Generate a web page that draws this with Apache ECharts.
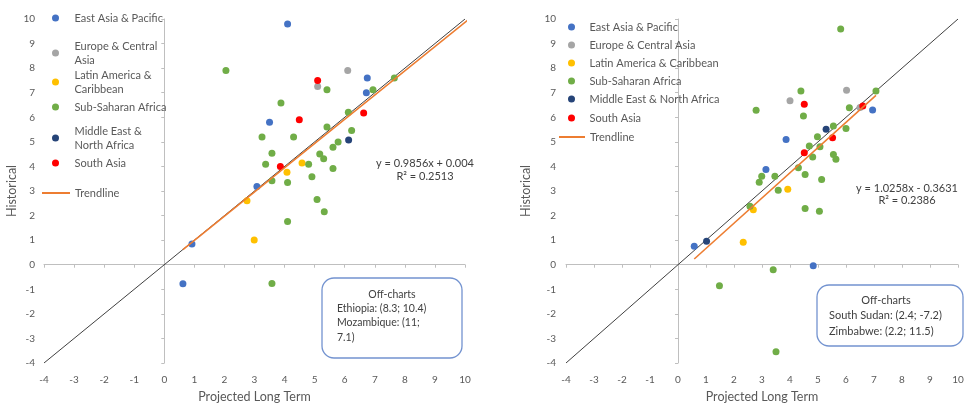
<!DOCTYPE html>
<html><head><meta charset="utf-8">
<script src="https://cdn.jsdelivr.net/npm/echarts/dist/echarts.min.js"></script>
<style>html,body{margin:0;padding:0;background:#fff}#c{width:970px;height:409px}</style>
</head><body><div id="c"></div>
<script>
// ---------- data ----------
const axisMin = -4, axisMax = 10, axisStep = 1;
const regionNames = ['East Asia & Pacific','Europe & Central Asia','Latin America & Caribbean','Sub-Saharan Africa','Middle East & North Africa','South Asia'];
const trendName = 'Trendline';

const leftEAP  = [[4.1,9.8],[6.75,7.6],[6.72,7.0],[3.5,5.8],[3.08,3.18],[0.92,0.84],[0.62,-0.77]];
const leftECA  = [[6.1,7.9],[5.1,7.25]];
const leftLAC  = [[4.58,4.14],[4.08,3.76],[2.75,2.6],[2.99,1.01]];
const leftSSA  = [[2.05,7.9],[7.65,7.6],[5.41,7.12],[6.94,7.12],[3.88,6.58],[6.12,6.2],[5.41,5.6],[6.23,5.46],
                  [3.25,5.2],[4.3,5.2],[5.78,4.99],[5.61,4.78],[3.58,4.54],[5.17,4.51],[5.3,4.31],[3.37,4.09],
                  [4.8,4.09],[5.61,3.92],[4.91,3.58],[3.58,3.42],[4.1,3.35],[5.08,2.65],[5.32,2.16],[4.1,1.76],[3.58,-0.76]];
const leftMENA = [[6.13,5.08]];
const leftSA   = [[5.1,7.5],[6.63,6.17],[4.49,5.9],[3.86,4.0]];
const leftTrend = {slope:0.9856, intercept:0.004, xFrom:0.62, xTo:11};

const rightEAP  = [[6.95,6.3],[3.86,5.1],[3.14,3.88],[0.58,0.75],[4.83,-0.04]];
const rightECA  = [[6.02,7.1],[4.0,6.67],[6.5,6.4]];
const rightLAC  = [[3.92,3.07],[2.69,2.24],[2.33,0.91]];
const rightSSA  = [[5.81,9.59],[4.39,7.07],[7.07,7.07],[2.79,6.29],[4.48,6.05],[6.12,6.39],[6.0,5.54],[5.55,5.65],
                   [4.98,5.21],[4.69,4.83],[5.07,4.8],[5.55,4.49],[5.64,4.29],[4.81,4.38],[4.3,3.95],[4.54,3.67],
                   [5.13,3.47],[2.99,3.6],[3.46,3.6],[2.9,3.36],[3.58,3.03],[2.57,2.38],[4.54,2.29],[5.05,2.18],
                   [3.4,-0.2],[1.48,-0.86],[3.5,-3.54]];
const rightMENA = [[5.29,5.51],[1.02,0.95]];
const rightSA   = [[4.51,6.53],[6.6,6.46],[5.52,5.17],[4.51,4.56]];
const rightTrend = {slope:1.0258, intercept:-0.3631, xFrom:0.58, xTo:7.07};

const leftEquation  = ['y = 0.9856x + 0.004','R\u00b2 = 0.2513'];
const rightEquation = ['y = 1.0258x - 0.3631','R\u00b2 = 0.2386'];
const leftOffCharts  = ['Off-charts','Ethiopia: (8.3; 10.4)','Mozambique: (11;','7.1)'];
const rightOffCharts = ['Off-charts','South Sudan: (2.4; -7.2)','Zimbabwe: (2.2; 11.5)'];
const xTitle = 'Projected Long Term', yTitle = 'Historical';

// ---------- styles ----------
const regionColors = ['#4472C4','#A5A5A5','#FFC000','#70AD47','#264478','#FF0000'];
const trendColor = '#ED7D31';
const FONT = 'Lato, "Liberation Sans", sans-serif';
const TXT = '#595959';

const leftSets  = [leftEAP, leftECA, leftLAC, leftSSA, leftMENA, leftSA];
const rightSets = [rightEAP, rightECA, rightLAC, rightSSA, rightMENA, rightSA];

const grids = [
  {left:44, right:505, top:19, bottom:46, outerBoundsMode:'none'},
  {left:566, right:12, top:19, bottom:46, outerBoundsMode:'none'}
];

function axes(isX, g, labelMargin){
  const base = {type:'value', gridIndex:g, min:axisMin, max:axisMax, interval:axisStep,
                position: isX ? 'bottom' : 'left', splitLine:{show:false}};
  const lineAxis = Object.assign({}, base, {
    axisLine:{show:true, onZero:true, onZeroAxisIndex: g*2, lineStyle:{color:'#BFBFBF', width:1}},
    axisTick:{show:true, length:3, lineStyle:{color:'#BFBFBF'}},
    axisLabel:{show:false}
  });
  const labelAxis = Object.assign({}, base, {
    axisLine:{show:false, onZero:false},
    axisTick:{show:false},
    axisLabel:{show:true, color:TXT, fontSize:10, fontFamily:FONT, margin:labelMargin}
  });
  if (isX) Object.assign(labelAxis, {name:xTitle, nameLocation:'middle', nameGap:27,
    nameTextStyle:{color:TXT, fontSize:12.5, fontFamily:FONT}});
  return [lineAxis, labelAxis];
}

const xAxis = [...axes(true,0,12), ...axes(true,1,12)];
const yAxis = [...axes(false,0,9), ...axes(false,1,10)];

const series = [];
function addChart(sets, trend, g){
  const ai = g*2;
  series.push({type:'line', xAxisIndex:ai, yAxisIndex:ai, data:[[axisMin,axisMin],[axisMax,axisMax]],
    symbol:'none', silent:true, z:1, lineStyle:{color:'#404040', width:1}});
  sets.forEach((d,i)=>{
    series.push({name:regionNames[i], type:'scatter', xAxisIndex:ai, yAxisIndex:ai, data:d,
      symbolSize:7, z:2, itemStyle:{color:regionColors[i], opacity:1}});
  });
  series.push({name:trendName, type:'line', xAxisIndex:ai, yAxisIndex:ai,
    data:[[trend.xFrom, trend.slope*trend.xFrom+trend.intercept],[trend.xTo, trend.slope*trend.xTo+trend.intercept]],
    symbol:'none', z:3, color:trendColor, lineStyle:{color:trendColor, width:1.6}, itemStyle:{color:trendColor}});
}
addChart(leftSets, leftTrend, 0);
addChart(rightSets, rightTrend, 1);

// legends: one component per entry
const wrapLeft = {'Europe & Central Asia':'Europe & Central\nAsia','Latin America & Caribbean':'Latin America &\nCaribbean','Middle East & North Africa':'Middle East &\nNorth Africa'};
const leftLegendY  = [18,53,82,107,138,163,193];
const rightLegendY = [27,45,63,81,99,118,137];
const legends = [];
const allNames = regionNames.concat([trendName]);
function addLegends(ys, leftCircle, leftLine, w, wrap){
  allNames.forEach((n,i)=>{
    const label = wrap ? (wrap[n] || n) : n;
    const lines = label.split('\n').length;
    const isTrend = n === trendName;
    legends.push({
      data:[{name:n, icon: isTrend ? 'rect' : 'circle'}],
      left: isTrend ? leftLine : leftCircle, top: ys[i] - lines*14/2, padding:0, orient:'vertical',
      itemWidth:w, itemHeight: isTrend ? 2 : 7, symbolKeepAspect:true, selectedMode:false,
      formatter: () => label,
      textStyle:{color:TXT, fontSize:11, fontFamily:FONT, lineHeight:14}
    });
  });
}
addLegends(leftLegendY, 52, 42, 28, wrapLeft);
addLegends(rightLegendY, 568, 559, 26, null);

function textEl(str, x, y, align, size){
  return {type:'text', x:x, y:y, z:10, style:{text:str, fill:'#404040', font:(size||11)+'px '+FONT, align:align, verticalAlign:'middle'}};
}
function vTitle(x, y){
  return {type:'text', x:x, y:y, rotation:Math.PI/2, z:10,
    style:{text:yTitle, fill:TXT, font:'12.5px '+FONT, align:'center', verticalAlign:'middle'}};
}
const graphic = [
  vTitle(12, 191), vTitle(526, 191),
  textEl(leftEquation[0], 425, 163, 'center'), textEl(leftEquation[1], 425, 176, 'center'),
  textEl(rightEquation[0], 907, 188, 'center'), textEl(rightEquation[1], 907, 200, 'center'),
  {type:'rect', z:9, shape:{x:322,y:278,width:140,height:80,r:12}, style:{fill:'#fff', stroke:'#7393D0', lineWidth:1.3}},
  textEl(leftOffCharts[0], 392, 295, 'center', 10.5),
  textEl(leftOffCharts[1], 337, 309, 'left', 10.5),
  textEl(leftOffCharts[2], 337, 323, 'left', 10.5),
  textEl(leftOffCharts[3], 337, 338, 'left', 10.5),
  {type:'rect', z:9, shape:{x:817,y:285,width:146,height:61,r:12}, style:{fill:'#fff', stroke:'#7393D0', lineWidth:1.3}},
  textEl(rightOffCharts[0], 886, 300, 'center', 11),
  textEl(rightOffCharts[1], 829, 315, 'left', 11),
  textEl(rightOffCharts[2], 829, 331, 'left', 11)
];

const chart = echarts.init(document.getElementById('c'), null, {renderer:'canvas'});
chart.setOption({
  backgroundColor:'#fff',
  animation:false,
  textStyle:{fontFamily:FONT},
  grid:grids, xAxis:xAxis, yAxis:yAxis, series:series, legend:legends, graphic:graphic
});
</script></body></html>
